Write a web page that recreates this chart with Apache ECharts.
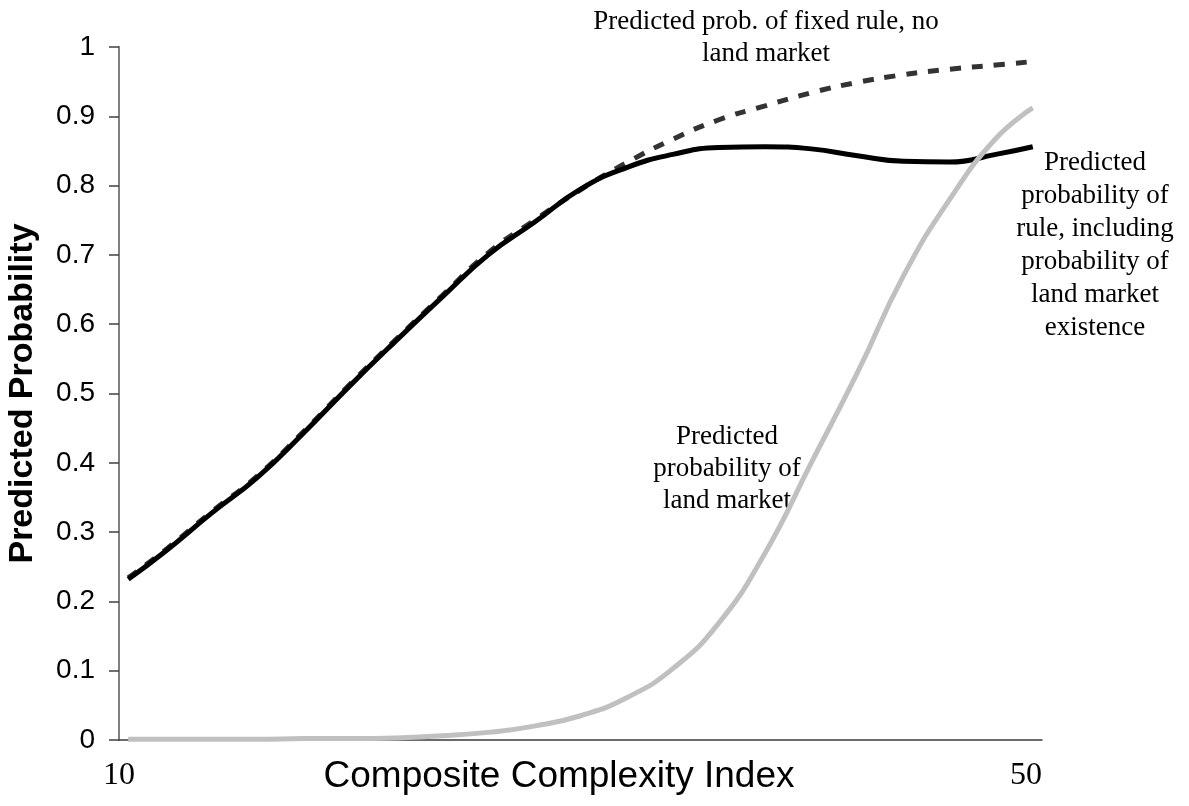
<!DOCTYPE html>
<html>
<head>
<meta charset="utf-8">
<script src="https://cdn.jsdelivr.net/npm/echarts@6/dist/echarts.min.js"></script>
<style>html,body{margin:0;padding:0;background:#fff;}#c{width:1189px;height:806px;}</style>
</head>
<body>
<div id="c"></div>
<script>
// Composite Complexity Index values
const xValues = [10.4, 12, 14, 16, 18, 20, 22, 24, 26, 28, 30, 32, 34, 36, 38, 40, 42, 44, 46, 48, 49.6];
// Predicted probability of rule, including probability of land market existence
const ruleWithMarket = [0.232, 0.272, 0.327, 0.379, 0.443, 0.511, 0.576, 0.639, 0.700, 0.747, 0.795, 0.826, 0.845, 0.855, 0.856, 0.853, 0.843, 0.835, 0.834, 0.845, 0.856];
// Predicted prob. of fixed rule, no land market
const fixedRuleNoMarket = [0.234, 0.274, 0.329, 0.381, 0.445, 0.513, 0.578, 0.641, 0.703, 0.750, 0.794, 0.833, 0.867, 0.895, 0.915, 0.934, 0.949, 0.960, 0.968, 0.974, 0.979];
// Predicted probability of land market
const landMarket = [0.001, 0.001, 0.001, 0.001, 0.002, 0.002, 0.003, 0.006, 0.011, 0.020, 0.035, 0.061, 0.103, 0.169, 0.27, 0.40, 0.53, 0.67, 0.78, 0.868, 0.912];

const yTicks = {min: 0, max: 1, interval: 0.1};
const xTicks = {min: 10, max: 50, interval: 40};

const pair = (xs, ys) => xs.map((x, i) => [x, ys[i]]);

const chart = echarts.init(document.getElementById('c'));
chart.setOption({
  animation: false,
  backgroundColor: '#fff',
  grid: {left: 119, right: 147, top: 47, bottom: 66, containLabel: false, outerBoundsMode: 'none'},
  xAxis: {
    type: 'value', min: xTicks.min, max: xTicks.max, interval: xTicks.interval,
    axisLine: {show: true, onZero: false, lineStyle: {color: '#3a3a3a', width: 1.5}},
    axisTick: {show: false},
    splitLine: {show: false},
    axisLabel: {
      fontFamily: 'Liberation Serif', fontSize: 32, color: '#000', margin: 20,
      alignMinLabel: 'center', alignMaxLabel: 'right'
    },
    name: 'Composite Complexity Index',
    nameLocation: 'middle', nameGap: 18, nameMoveOverlap: false,
    nameTextStyle: {fontFamily: 'Liberation Sans', fontSize: 37, color: '#000', padding: [0, 43, 0, 0], verticalAlign: 'top'}
  },
  yAxis: {
    type: 'value', min: yTicks.min, max: yTicks.max, interval: yTicks.interval,
    axisLine: {show: true, lineStyle: {color: '#808080', width: 2}},
    axisTick: {show: true, inside: false, length: 10, lineStyle: {color: '#404040', width: 1.5}},
    splitLine: {show: false},
    axisLabel: {fontFamily: 'Liberation Sans', fontSize: 28, color: '#000', margin: 24},
    name: 'Predicted Probability',
    nameLocation: 'middle', nameGap: 79, nameRotate: 90, nameMoveOverlap: false,
    nameTextStyle: {fontFamily: 'Liberation Sans', fontSize: 34, fontWeight: 'bold', color: '#000'}
  },
  series: [
    {
      name: 'Predicted prob. of fixed rule, no land market',
      type: 'line', smooth: true, showSymbol: false, symbol: 'none',
      data: pair(xValues, fixedRuleNoMarket),
      lineStyle: {color: '#333', width: 5, type: [11, 11], cap: 'butt'}
    },
    {
      name: 'Predicted probability of rule, including probability of land market existence',
      type: 'line', smooth: true, showSymbol: false, symbol: 'none',
      data: pair(xValues, ruleWithMarket),
      lineStyle: {color: '#000', width: 5}
    },
    {
      name: 'Predicted probability of land market',
      type: 'line', smooth: true, showSymbol: false, symbol: 'none',
      data: pair(xValues, landMarket),
      lineStyle: {color: '#c0c0c0', width: 5}
    }
  ],
  graphic: [
    {type: 'text', x: 766, y: 6, style: {text: 'Predicted prob. of fixed rule, no\nland market', font: '27px "Liberation Serif"', fill: '#000', textAlign: 'center', lineHeight: 32}},
    {type: 'text', x: 1095, y: 146, style: {text: 'Predicted\nprobability of\nrule, including\nprobability of\nland market\nexistence', font: '27px "Liberation Serif"', fill: '#000', textAlign: 'center', lineHeight: 33}},
    {type: 'text', x: 727, y: 421, style: {text: 'Predicted\nprobability of\nland market', font: '27px "Liberation Serif"', fill: '#000', textAlign: 'center', lineHeight: 32}}
  ]
});
</script>
</body>
</html>
